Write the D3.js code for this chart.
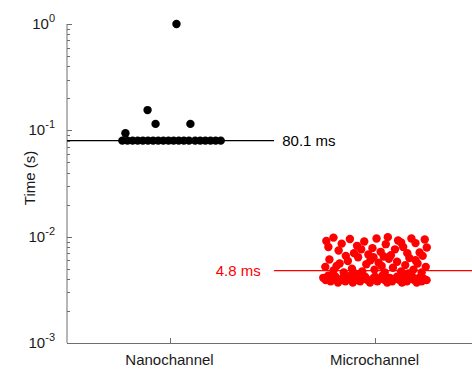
<!DOCTYPE html>
<html>
<head>
<meta charset="utf-8">
<script src="https://cdn.jsdelivr.net/npm/d3@7"></script>
<style>
  body { margin: 0; background: #fff; }
  svg { font-family: "Liberation Sans", Arial, sans-serif; }
</style>
</head>
<body>
<div id="chart"></div>
<script>
// categories and mean lines
const categories = ["Nanochannel", "Microchannel"];
const meanTimes = [0.0801, 0.0048];
const meanLabels = ["80.1 ms", "4.8 ms"];
const yTicks = [1e-3, 1e-2, 1e-1, 1];
const yTickExp = ["-3", "-2", "-1", "0"];

// nanochannel points: horizontal jitter (category units) and time (s)
const nanoJitter = [-0.23, -0.205, -0.18, -0.155, -0.13, -0.105, -0.08, -0.055, -0.03, -0.005,
    0.02, 0.045, 0.07, 0.095, 0.125, 0.15, 0.175, 0.2, 0.225, 0.25,
    -0.215, -0.107, -0.068, 0.034, 0.102];
const nanoTime = [0.08, 0.08, 0.08, 0.08, 0.08, 0.08, 0.08, 0.08, 0.08, 0.08,
    0.08, 0.08, 0.08, 0.08, 0.08, 0.08, 0.08, 0.08, 0.08, 0.08,
    0.094, 0.155, 0.115, 1.0, 0.115];

// microchannel points
const microJitter = [
    -0.25, -0.238, -0.226, -0.214, -0.202, -0.19, -0.178, -0.166, -0.154, -0.142, -0.13, -0.118, -0.106,
    -0.094, -0.082, -0.07, -0.058, -0.046, -0.034, -0.022, -0.01, 0.002, 0.014, 0.026, 0.038, 0.05,
    0.062, 0.074, 0.086, 0.098, 0.11, 0.122, 0.134, 0.146, 0.158, 0.17, 0.182, 0.194, 0.206, 0.218,
    0.23, 0.242, 0.254,
    -0.24, -0.22, -0.2, -0.17, -0.15, -0.13, -0.11, -0.08, -0.06, -0.04, -0.02, 0.0, 0.02, 0.05,
    0.07, 0.09, 0.11, 0.13, 0.15, 0.17, 0.19, 0.21, 0.23, 0.25, -0.185, -0.095, 0.035, 0.165, -0.005, 0.2,
    -0.235, -0.225, -0.2, -0.175, -0.16, -0.12, -0.1, -0.085, -0.05, -0.03, -0.01, 0.01, 0.03, 0.055,
    0.065, 0.08, 0.1, 0.115, 0.14, 0.16, 0.18, 0.2, 0.22, 0.245, 0.255, -0.14, -0.065, 0.045, 0.13, 0.235
];
const microTime = [
    0.0041, 0.0039, 0.0043, 0.0038, 0.0040, 0.0042, 0.0037, 0.0039, 0.0041, 0.0038, 0.0040, 0.0043, 0.0037,
    0.0039, 0.0041, 0.0038, 0.0040, 0.0042, 0.0039, 0.0037, 0.0040, 0.0042, 0.0038, 0.0040, 0.0043, 0.0039,
    0.0037, 0.0041, 0.0038, 0.0040, 0.0042, 0.0039, 0.0037, 0.0041, 0.0038, 0.0040, 0.0043, 0.0039, 0.0037,
    0.0041, 0.0038, 0.0040, 0.0039,
    0.0052, 0.0061, 0.0048, 0.0056, 0.0046, 0.0059, 0.0050, 0.0064, 0.0047, 0.0055, 0.0060, 0.0049, 0.0057, 0.0046,
    0.0062, 0.0051, 0.0058, 0.0047, 0.0054, 0.0063, 0.0049, 0.0056, 0.0046, 0.0052, 0.0053, 0.0045, 0.0053, 0.0045, 0.0064, 0.0060,
    0.0091, 0.0080, 0.0098, 0.0074, 0.0086, 0.0095, 0.0070, 0.0082, 0.0090, 0.0068, 0.0078, 0.0096, 0.0072, 0.0085,
    0.0099, 0.0067, 0.0076, 0.0092, 0.0080, 0.0070, 0.0096, 0.0087, 0.0071, 0.0094, 0.0079, 0.0066, 0.0076, 0.0065, 0.0088, 0.0066
];

const colors = ["#000000", "#ff0000"];

const margin = {top: 24, right: 0, bottom: 27, left: 67};
const width = 472 - margin.left - margin.right;
const height = 370 - margin.top - margin.bottom;

const svg = d3.select("#chart").append("svg")
    .attr("width", 472)
    .attr("height", 370)
    .append("g")
    .attr("transform", `translate(${margin.left},${margin.top})`);

const x = d3.scaleLinear().domain([0.5, 2.5]).range([0, 410]);
const y = d3.scaleLog().domain([1e-3, 1]).range([height, 0]);

const axisColor = "#6e6e6e";
const textColor = "#1a1a1a";

// y axis with inward ticks
const yAxis = svg.append("g");
yAxis.append("line")
    .attr("x1", 0).attr("x2", 0).attr("y1", 0).attr("y2", height)
    .attr("stroke", axisColor);
const minor = [];
for (let e = -3; e < 0; e++) {
    for (let m = 2; m <= 9; m++) minor.push(m * Math.pow(10, e));
}
yAxis.selectAll(".minor").data(minor).enter().append("line")
    .attr("x1", 0).attr("x2", 3)
    .attr("y1", d => Math.round(y(d)) + 0.5).attr("y2", d => Math.round(y(d)) + 0.5)
    .attr("stroke", axisColor);
yAxis.selectAll(".major").data(yTicks).enter().append("line")
    .attr("x1", 0).attr("x2", 5)
    .attr("y1", d => Math.round(y(d)) + 0.5).attr("y2", d => Math.round(y(d)) + 0.5)
    .attr("stroke", axisColor);

const labels = yAxis.selectAll(".lab").data(yTicks).enter().append("text")
    .attr("x", -12)
    .attr("y", d => y(d) + 5)
    .attr("text-anchor", "end")
    .attr("font-size", 15)
    .attr("fill", textColor);
labels.append("tspan").text("10");
labels.append("tspan")
    .attr("dy", -7)
    .attr("font-size", 11)
    .text((d, i) => yTickExp[i]);

svg.append("text")
    .attr("transform", `translate(${-32},${154}) rotate(-90)`)
    .attr("text-anchor", "middle")
    .attr("font-size", 15)
    .attr("fill", textColor)
    .text("Time (s)");

// x axis
svg.append("line")
    .attr("x1", 0).attr("x2", width).attr("y1", height + 0.5).attr("y2", height + 0.5)
    .attr("stroke", axisColor);
svg.selectAll(".xtick").data(categories).enter().append("line")
    .attr("x1", (d, i) => Math.round(x(i + 1)) + 0.5).attr("x2", (d, i) => Math.round(x(i + 1)) + 0.5)
    .attr("y1", height).attr("y2", height - 5)
    .attr("stroke", axisColor);
svg.selectAll(".xlab").data(categories).enter().append("text")
    .attr("x", (d, i) => x(i + 1))
    .attr("y", height + 22)
    .attr("text-anchor", "middle")
    .attr("font-size", 15)
    .attr("fill", textColor)
    .text(d => d);

// mean lines
svg.append("line")
    .attr("x1", 0).attr("x2", x(1.51))
    .attr("y1", y(meanTimes[0])).attr("y2", y(meanTimes[0]))
    .attr("stroke", colors[0]).attr("stroke-width", 1.3);
svg.append("text")
    .attr("x", x(1.55)).attr("y", y(meanTimes[0]) + 5)
    .attr("font-size", 15).attr("fill", colors[0])
    .text(meanLabels[0]);

svg.append("line")
    .attr("x1", x(1.51)).attr("x2", width)
    .attr("y1", y(meanTimes[1])).attr("y2", y(meanTimes[1]))
    .attr("stroke", colors[1]).attr("stroke-width", 1.3);
svg.append("text")
    .attr("x", x(1.445)).attr("y", y(meanTimes[1]) + 5)
    .attr("text-anchor", "end")
    .attr("font-size", 15).attr("fill", colors[1])
    .text(meanLabels[1]);

// points
svg.selectAll(".nano").data(nanoTime).enter().append("circle")
    .attr("cx", (d, i) => x(1 + nanoJitter[i]))
    .attr("cy", d => y(d))
    .attr("r", 4.2)
    .attr("fill", colors[0]);

svg.selectAll(".micro").data(microTime).enter().append("circle")
    .attr("cx", (d, i) => x(2 + microJitter[i]))
    .attr("cy", d => y(d))
    .attr("r", 4.2)
    .attr("fill", colors[1]);
</script>
</body>
</html>
